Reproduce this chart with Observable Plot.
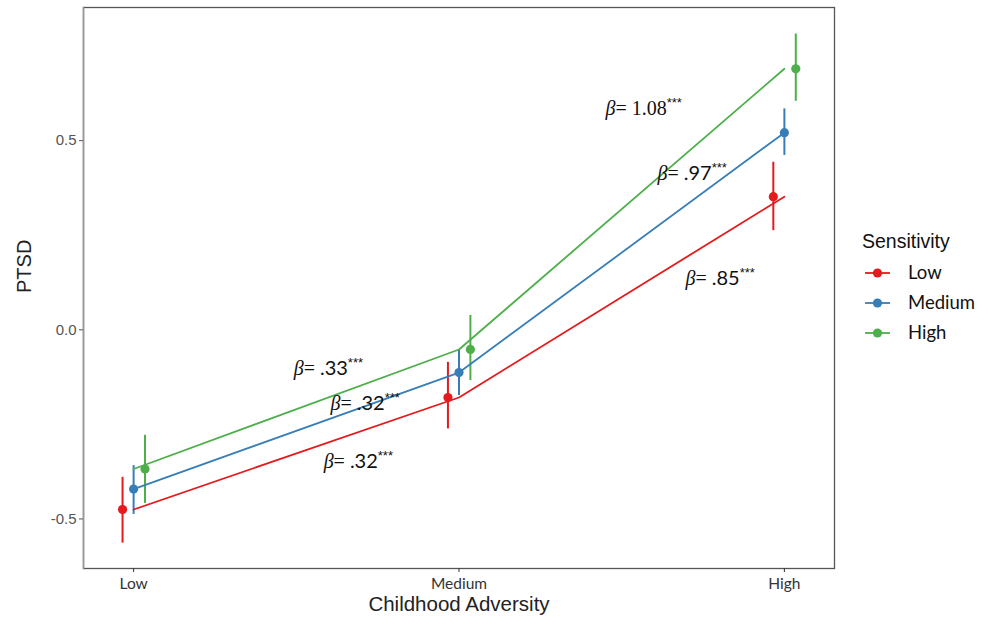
<!DOCTYPE html>
<html>
<head>
<meta charset="utf-8">
<script src="https://cdn.jsdelivr.net/npm/d3@7"></script>
<script src="https://cdn.jsdelivr.net/npm/@observablehq/plot@0.6"></script>
<style>
  html, body { margin: 0; padding: 0; background: #fff; }
  #wrap { position: relative; width: 991px; height: 624px; }
  #legend { position: absolute; left: 0; top: 0; }
</style>
</head>
<body>
<div id="wrap"></div>
<script>
// Adversity categories (x axis)
const categories = ["Low", "Medium", "High"];
// Sensitivity groups (series)
const series = ["Low", "Medium", "High"];
const colors = ["#E41A1C", "#377EB8", "#4DAF4A"];

// Means per sensitivity group across Low / Medium / High adversity
const meanLow    = [-0.475, -0.179, 0.352];
const meanMedium = [-0.421, -0.113, 0.521];
const meanHigh   = [-0.368, -0.052, 0.690];

// Error bar bounds
const lowerLow    = [-0.564, -0.262, 0.262];
const upperLow    = [-0.390, -0.086, 0.443];
const lowerMedium = [-0.488, -0.174, 0.461];
const upperMedium = [-0.359, -0.055, 0.584];
const lowerHigh   = [-0.459, -0.134, 0.604];
const upperHigh   = [-0.279, 0.038, 0.782];

// Slope annotations
const betaLabels = ["1.08", ".97", ".85", ".33", ".32", ".32"];
const betaX = [2.450, 2.610, 2.696, 1.492, 1.605, 1.584];
const betaY = [0.585, 0.413, 0.136, -0.102, -0.195, -0.348];

const yTicks = [-0.5, 0, 0.5];

const means = [meanLow, meanMedium, meanHigh];
const lowers = [lowerLow, lowerMedium, lowerHigh];
const uppers = [upperLow, upperMedium, upperHigh];
const dodge = [-0.034, 0, 0.035];

const data = [];
series.forEach((s, si) => {
  categories.forEach((c, ci) => {
    data.push({
      series: s,
      pos: ci + 1,
      dpos: ci + 1 + dodge[si],
      mean: means[si][ci],
      lower: lowers[si][ci],
      upper: uppers[si][ci]
    });
  });
});
const notes = betaLabels.map((l, i) => ({label: "β= " + l, x: betaX[i], y: betaY[i]}));

const chart = Plot.plot({
  width: 991,
  height: 624,
  marginLeft: 83,
  marginRight: 157,
  marginTop: 7,
  marginBottom: 56,
  style: {background: "#fff"},
  x: {domain: [0.846, 3.154], label: null, axis: null},
  y: {domain: [-0.631, 0.852], label: null, axis: null},
  color: {domain: series, range: colors},
  marks: [
    Plot.frame({stroke: "#555", strokeWidth: 1.3}),
    Plot.frame({anchor: "left", stroke: "#999", strokeWidth: 1.6}),
    Plot.axisY({ticks: yTicks, tickFormat: d => d.toFixed(1), tickSize: 4, tickPadding: 3,
      fontSize: 15, color: "#555", fontFamily: "Liberation Sans, Arial, sans-serif", label: null}),
    Plot.axisX({ticks: [1, 2, 3], tickFormat: d => categories[d - 1], tickSize: 4, tickPadding: 5,
      fontSize: 15.5, color: "#333", fontFamily: "Lato, sans-serif", label: null}),
    Plot.text(["Childhood Adversity"], {frameAnchor: "bottom", dy: 42, fontSize: 20.5,
      fill: "#222", fontFamily: "Liberation Sans, Arial, sans-serif"}),
    Plot.text(["PTSD"], {frameAnchor: "left", dx: -59, dy: 5, rotate: -90, fontSize: 20,
      fill: "#222", fontFamily: "Liberation Sans, Arial, sans-serif"}),
    Plot.ruleX(data, {x: "dpos", y1: "lower", y2: "upper", stroke: "series", strokeWidth: 2}),
    Plot.line(data, {x: "pos", y: "mean", stroke: "series", z: "series", strokeWidth: 1.8}),
    Plot.dot(data, {x: "dpos", y: "mean", fill: "series", r: 4.6}),
    Plot.text(notes, {x: "x", y: "y", text: "label", textAnchor: "start", lineAnchor: "middle",
      fontSize: 20, fill: "#111", fontFamily: "Liberation Serif, serif"})
  ]
});

// Style the slope annotations: italic beta, superscript stars
d3.select(chart).selectAll("text").each(function() {
  const t = this.textContent;
  if (!t.startsWith("β= ")) return;
  const num = t.slice(3);
  const sel = d3.select(this);
  sel.text(null);
  sel.append("tspan").attr("font-style", "italic").text("β");
  sel.append("tspan").text("= ");
  sel.append("tspan")
    .attr("font-family", num.startsWith("1") ? "Liberation Serif, serif" : "Lato, sans-serif")
    .text(num);
  sel.append("tspan").attr("font-size", 13).attr("dy", "-0.6em")
    .attr("font-family", "Liberation Sans, sans-serif").text("***");
});

const wrap = document.getElementById("wrap");
wrap.appendChild(chart);

// Legend
const leg = d3.select(wrap).append("svg").attr("id", "legend")
  .attr("width", 991).attr("height", 624).style("pointer-events", "none");
leg.append("text").attr("x", 862).attr("y", 248).attr("font-size", 19.5)
  .attr("font-family", "Liberation Sans, Arial, sans-serif").attr("fill", "#111").text("Sensitivity");
series.forEach((s, i) => {
  const cy = 273 + i * 30;
  leg.append("line").attr("x1", 865).attr("x2", 890).attr("y1", cy).attr("y2", cy)
    .attr("stroke", colors[i]).attr("stroke-width", 1.8);
  leg.append("circle").attr("cx", 877.5).attr("cy", cy).attr("r", 4.6).attr("fill", colors[i]);
  leg.append("text").attr("x", 908).attr("y", cy).attr("dy", "0.35em").attr("font-size", 18.5)
    .attr("font-family", "Lato, sans-serif").attr("fill", "#111").text(s);
});
</script>
</body>
</html>
